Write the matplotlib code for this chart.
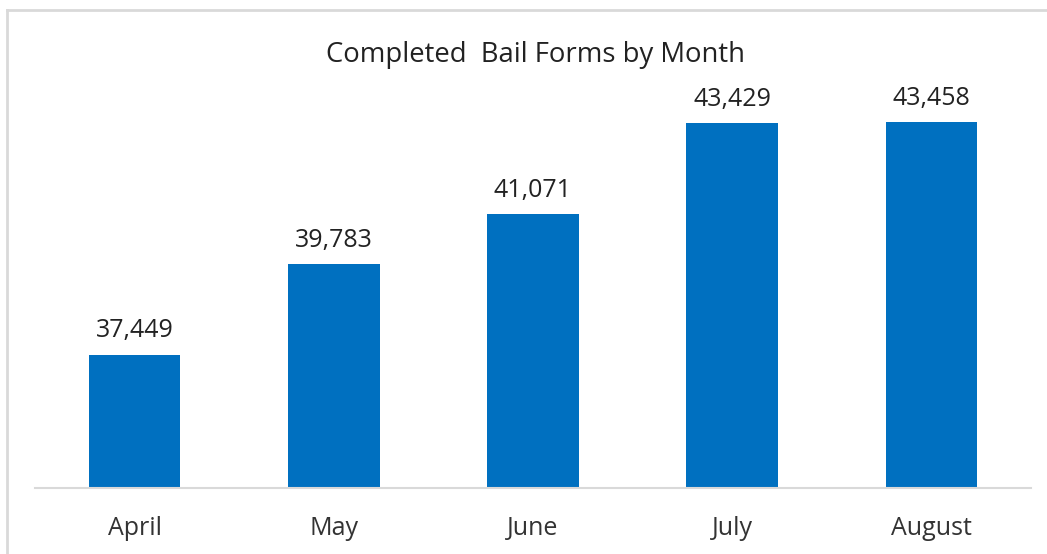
import matplotlib.pyplot as plt
from matplotlib.lines import Line2D

months = ["April", "May", "June", "July", "August"]
forms = [37449, 39783, 41071, 43429, 43458]

W, H = 1047, 554
fig = plt.figure(figsize=(W / 100, H / 100), dpi=100)
plt.rcParams['font.family'] = ['Open Sans', 'DejaVu Sans']

# plot area in pixels: x 35..1031, y 101..488
ax = fig.add_axes([35 / W, 1 - 488 / H, 996 / W, 387 / H])
ax.bar(range(len(months)), forms, width=0.46, color="#0070C0", zorder=2)
ax.set_xlim(-0.5, len(months) - 0.5)
ax.set_ylim(34000, 44000)

for i, v in enumerate(forms):
    ax.annotate(f"{v:,}", (i, v), xytext=(0, 8), textcoords="offset points",
                ha="center", va="bottom", fontsize=18, color="#222222",
                annotation_clip=False)

ax.set_xticks(range(len(months)))
ax.set_xticklabels(months, fontsize=18, color="#333333")
ax.tick_params(axis="x", length=0, pad=20)
ax.set_yticks([])
for s in ["top", "right", "left"]:
    ax.spines[s].set_visible(False)
ax.spines["bottom"].set_color("#d9d9d9")
ax.spines["bottom"].set_linewidth(1.5)
ax.spines["bottom"].set_zorder(3)

fig.text(536 / W, 1 - 62 / H, "Completed  Bail Forms by Month", ha="center",
         va="baseline", fontsize=19.8, color="#222222")

# chart border (top and left edges visible)
fig.add_artist(Line2D([7 / W, 7 / W], [0, 1 - 10 / H], color="#d9d9d9", lw=2))
fig.add_artist(Line2D([7 / W, 1], [1 - 10 / H, 1 - 10 / H], color="#d9d9d9", lw=2))

fig.savefig("out.png", dpi=100)
